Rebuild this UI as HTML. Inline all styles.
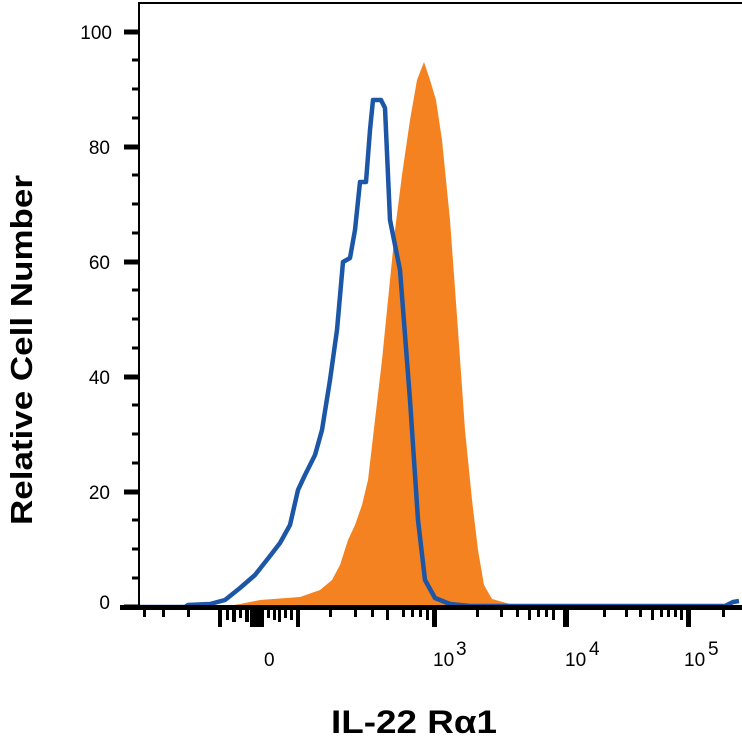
<!DOCTYPE html>
<html><head><style>body{margin:0;background:#fff}</style></head><body>
<svg width="742" height="746" xmlns="http://www.w3.org/2000/svg" font-family="Liberation Sans, sans-serif">
<rect width="742" height="746" fill="#fff"/>
<path d="M220,607 L240,604 L260,600 L300,597 L320,590 L332,580 L340,565 L348,540 L355,525 L362,505 L368,480 L375,420 L382,360 L388,300 L395,230 L402,175 L410,120 L417,80 L424,62 L430,80 L436,100 L442,140 L450,220 L458,330 L465,430 L472,500 L478,550 L484,585 L492,599 L510,604 L520,607 Z" fill="#f58220"/>
<path d="M139,607 L185,607 L188,605 L210,604 L225,600 L240,588 L255,575 L270,556 L280,543 L290,525 L298,490 L305,475 L315,455 L322,430 L330,380 L337,330 L343,262 L350,258 L355,230 L360,182 L366,182 L370,130 L373,100 L381,100 L385,108 L390,220 L400,270 L410,400 L418,520 L425,580 L435,598 L450,604 L470,606 L725,606 L733,602 L739,601" fill="none" stroke="#1c56a6" stroke-width="4.5" stroke-linejoin="round"/>
<path d="M139,2 L139,609 M139,3 L742,3" stroke="#000" stroke-width="2" fill="none"/>
<rect x="120" y="605" width="622" height="5" fill="#000"/>
<g stroke="#000" stroke-width="3">
<line x1="124" y1="32" x2="139" y2="32" stroke-width="5"/><line x1="124" y1="147" x2="139" y2="147" stroke-width="5"/><line x1="124" y1="262" x2="139" y2="262" stroke-width="5"/><line x1="124" y1="377" x2="139" y2="377" stroke-width="5"/><line x1="124" y1="492" x2="139" y2="492" stroke-width="5"/><line x1="124" y1="607" x2="139" y2="607" stroke-width="5"/>
<line x1="132" y1="60" x2="139" y2="60"/><line x1="132" y1="89" x2="139" y2="89"/><line x1="132" y1="118" x2="139" y2="118"/>
<line x1="132" y1="175" x2="139" y2="175"/><line x1="132" y1="204" x2="139" y2="204"/><line x1="132" y1="233" x2="139" y2="233"/>
<line x1="132" y1="290" x2="139" y2="290"/><line x1="132" y1="319" x2="139" y2="319"/><line x1="132" y1="348" x2="139" y2="348"/>
<line x1="132" y1="405" x2="139" y2="405"/><line x1="132" y1="434" x2="139" y2="434"/><line x1="132" y1="463" x2="139" y2="463"/>
<line x1="132" y1="520" x2="139" y2="520"/><line x1="132" y1="549" x2="139" y2="549"/><line x1="132" y1="578" x2="139" y2="578"/>
</g>
<g fill="#000">
<rect x="143" y="610" width="3" height="7"/><rect x="162" y="610" width="3" height="7"/><rect x="187" y="610" width="3" height="7"/>
<rect x="218" y="610" width="4" height="17"/><rect x="226" y="610" width="3" height="10"/><rect x="232" y="610" width="4" height="12"/><rect x="239" y="610" width="3" height="8"/><rect x="245" y="610" width="4" height="12"/><rect x="250" y="610" width="14" height="17"/><rect x="267" y="610" width="3" height="8"/><rect x="273" y="610" width="3" height="10"/><rect x="278" y="610" width="3" height="12"/><rect x="284" y="610" width="3" height="8"/><rect x="290" y="610" width="3" height="10"/><rect x="296" y="610" width="4" height="17"/>
<rect x="329" y="610" width="3" height="7"/><rect x="354" y="610" width="3" height="7"/><rect x="371" y="610" width="3" height="7"/><rect x="386" y="610" width="3" height="10"/><rect x="402" y="610" width="3" height="7"/><rect x="411" y="610" width="3" height="7"/><rect x="419" y="610" width="3" height="7"/><rect x="426" y="610" width="3" height="10"/><rect x="432" y="610" width="5" height="17"/>
<rect x="476" y="610" width="3" height="7"/><rect x="500" y="610" width="3" height="7"/><rect x="516" y="610" width="3" height="7"/><rect x="528" y="610" width="3" height="10"/><rect x="537" y="610" width="3" height="7"/><rect x="545" y="610" width="3" height="7"/><rect x="552" y="610" width="3" height="10"/><rect x="563" y="610" width="6" height="17"/>
<rect x="603" y="610" width="3" height="7"/><rect x="625" y="610" width="3" height="7"/><rect x="639" y="610" width="3" height="7"/><rect x="651" y="610" width="3" height="10"/><rect x="660" y="610" width="3" height="7"/><rect x="667" y="610" width="3" height="7"/><rect x="674" y="610" width="3" height="7"/><rect x="680" y="610" width="3" height="10"/><rect x="686" y="610" width="5" height="17"/><rect x="722" y="610" width="3" height="7"/>
</g>
<g font-size="19" fill="#000" text-anchor="end">
<text x="112" y="39">100</text><text x="110" y="154">80</text><text x="110" y="269">60</text><text x="110" y="384">40</text><text x="110" y="499">20</text><text x="110" y="609">0</text>
</g>
<g font-size="19" fill="#000">
<text x="264" y="666">0</text>
<text x="433" y="666">10</text><text x="456" y="655">3</text>
<text x="565" y="666">10</text><text x="589" y="655">4</text>
<text x="684" y="666">10</text><text x="708" y="655">5</text>
</g>
<text x="331" y="733" font-size="32" font-weight="bold" textLength="166" lengthAdjust="spacingAndGlyphs">IL-22 Rα1</text>
<text transform="translate(32,525) rotate(-90)" font-size="31" font-weight="bold" textLength="350" lengthAdjust="spacingAndGlyphs">Relative Cell Number</text>
</svg>
</body></html>
